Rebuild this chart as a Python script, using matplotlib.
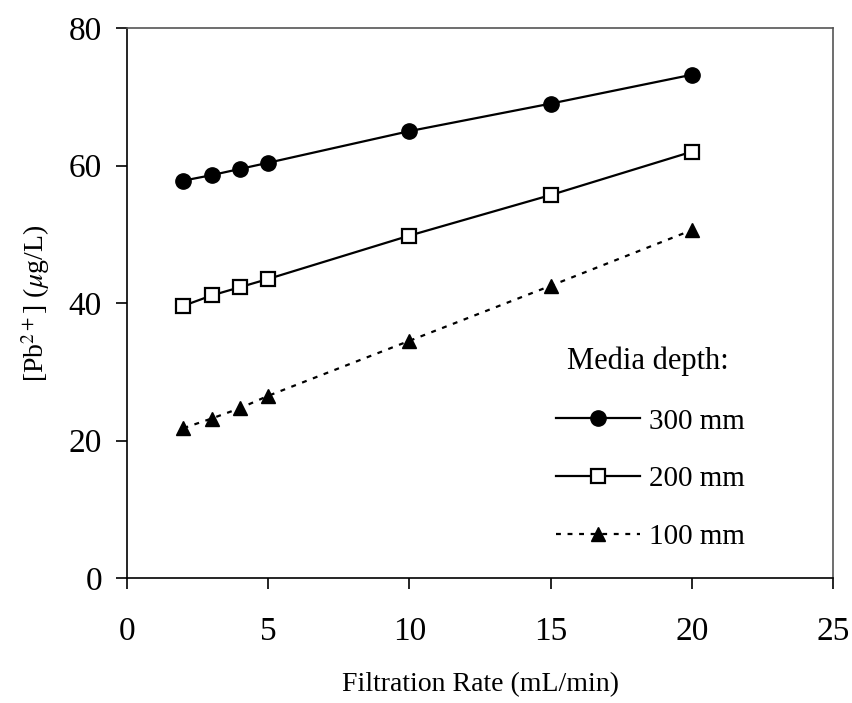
import matplotlib
matplotlib.use("Agg")
import matplotlib.pyplot as plt

plt.rcParams['font.family'] = ['Liberation Serif', 'DejaVu Serif']
plt.rcParams['mathtext.fontset'] = 'stix'

# filtration rate (mL/min)
rate = [2, 3, 4, 5, 10, 15, 20]

# Pb2+ concentration (ug/L) per media depth
pb_300 = [57.8, 58.6, 59.5, 60.4, 65.0, 69.0, 73.2]
pb_200 = [39.6, 41.1, 42.3, 43.5, 49.8, 55.7, 62.0]
pb_100 = [21.8, 23.2, 24.7, 26.5, 34.5, 42.5, 50.6]

labels = ["300 mm", "200 mm", "100 mm"]

fig = plt.figure(figsize=(8.52, 7.03), dpi=100)
ax = fig.add_axes([127 / 852, 1 - 578 / 703, (833 - 127) / 852, (578 - 28) / 703])

ax.plot(rate, pb_300, color='black', lw=1.6, marker='o', ms=11,
        mfc='black', mec='black', label=labels[0])
ax.plot(rate, pb_200, color='black', lw=1.6, marker='s', ms=10,
        mfc='white', mec='black', mew=1.6, label=labels[1])
ax.plot(rate, pb_100, color='black', lw=1.6, ls=(0, (2.2, 3)), marker='^', ms=10,
        mfc='black', mec='black', label=labels[2])

ax.set_xlim(0, 25)
ax.set_ylim(0, 80)
ax.set_xticks([0, 5, 10, 15, 20, 25])
ax.set_yticks([0, 20, 40, 60, 80])
ax.tick_params(direction='out', length=8, width=1.2, labelsize=24, pad=10)
ax.tick_params(axis='x', pad=20)

for s in ax.spines.values():
    s.set_linewidth(1.2)
ax.spines['top'].set_color('#555555')
ax.spines['right'].set_color('#555555')

ax.set_xlabel("Filtration Rate (mL/min)", fontsize=20, labelpad=18)
ax.set_ylabel(r"[Pb$^{2+}$] ($\mu$g/L)", fontsize=20, labelpad=12)

# legend title placed as text, entries below it
ax.text(0.738, 0.394, "Media depth:", transform=ax.transAxes,
        fontsize=22, ha='center', va='center')
ax.legend(loc='upper left', bbox_to_anchor=(0.591, 0.33), frameon=False,
          fontsize=21, handlelength=2.9, labelspacing=1.07, handletextpad=0.3,
          borderaxespad=0)

fig.savefig("out.png", dpi=100)
